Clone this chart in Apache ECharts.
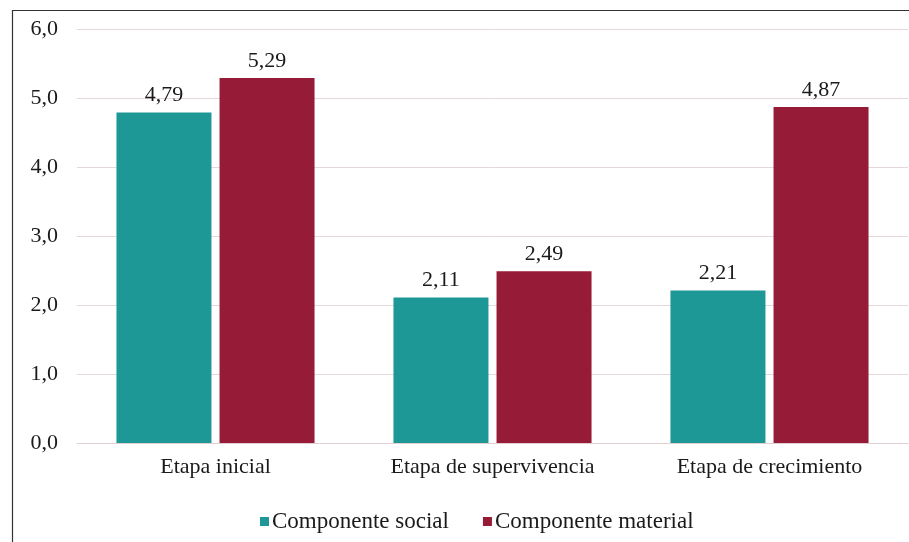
<!DOCTYPE html>
<html>
<head>
<meta charset="utf-8">
<script src="https://cdn.jsdelivr.net/npm/echarts@6/dist/echarts.min.js"></script>
<style>
  html, body { margin: 0; padding: 0; background: #fff; }
  #chart { width: 909px; height: 542px; }
</style>
</head>
<body>
<div id="chart"></div>
<script>
const categories = ["Etapa inicial", "Etapa de supervivencia", "Etapa de crecimiento"];
const socialValues = [4.79, 2.11, 2.21];
const materialValues = [5.29, 2.49, 4.87];
const seriesNames = ["Componente social", "Componente material"];

const font = "'Liberation Serif', 'Times New Roman', serif";
const fmt = v => v.toFixed(1).replace(".", ",");
const fmt2 = v => v.toFixed(2).replace(".", ",");

const chart = echarts.init(document.getElementById("chart"));
chart.setOption({
  animation: false,
  textStyle: { fontFamily: font, color: "#1a1a1a" },
  graphic: [
    {
      // frame: only top and left edges are visible in the crop
      type: "rect",
      shape: { x: 12.5, y: 10.5, width: 940, height: 545 },
      style: { fill: "none", stroke: "#333", lineWidth: 1.2 }
    }
  ],
  grid: { left: 77, right: 1, top: 29, bottom: 99 },
  legend: {
    left: 255,
    top: 505,
    itemWidth: 9,
    itemHeight: 9,
    itemGap: 34,
    icon: "rect",
    textStyle: { fontFamily: font, fontSize: 23, color: "#1a1a1a", padding: [0, 0, 0, -2] },
    data: seriesNames
  },
  xAxis: {
    type: "category",
    data: categories,
    axisLine: { lineStyle: { color: "#e2cfcf", width: 1 } },
    axisTick: { show: false },
    axisLabel: { fontFamily: font, fontSize: 22, color: "#1a1a1a", margin: 13 }
  },
  yAxis: {
    type: "value",
    min: 0,
    max: 6,
    interval: 1,
    axisLine: { show: false },
    axisTick: { show: false },
    splitLine: { lineStyle: { color: "#e6d8d8", width: 1 } },
    axisLabel: { fontFamily: font, fontSize: 22, color: "#1a1a1a", margin: 19, formatter: fmt }
  },
  series: [
    {
      name: seriesNames[0],
      type: "bar",
      data: socialValues,
      barWidth: 95,
      barGap: "8.5%",
      itemStyle: { color: "#1e9896" },
      label: { show: true, position: "top", distance: 6, fontFamily: font, fontSize: 22, color: "#1a1a1a", formatter: p => fmt2(p.value) }
    },
    {
      name: seriesNames[1],
      type: "bar",
      data: materialValues,
      barWidth: 95,
      itemStyle: { color: "#961b36" },
      label: { show: true, position: "top", distance: 6, fontFamily: font, fontSize: 22, color: "#1a1a1a", formatter: p => fmt2(p.value) }
    }
  ]
});
</script>
</body>
</html>
